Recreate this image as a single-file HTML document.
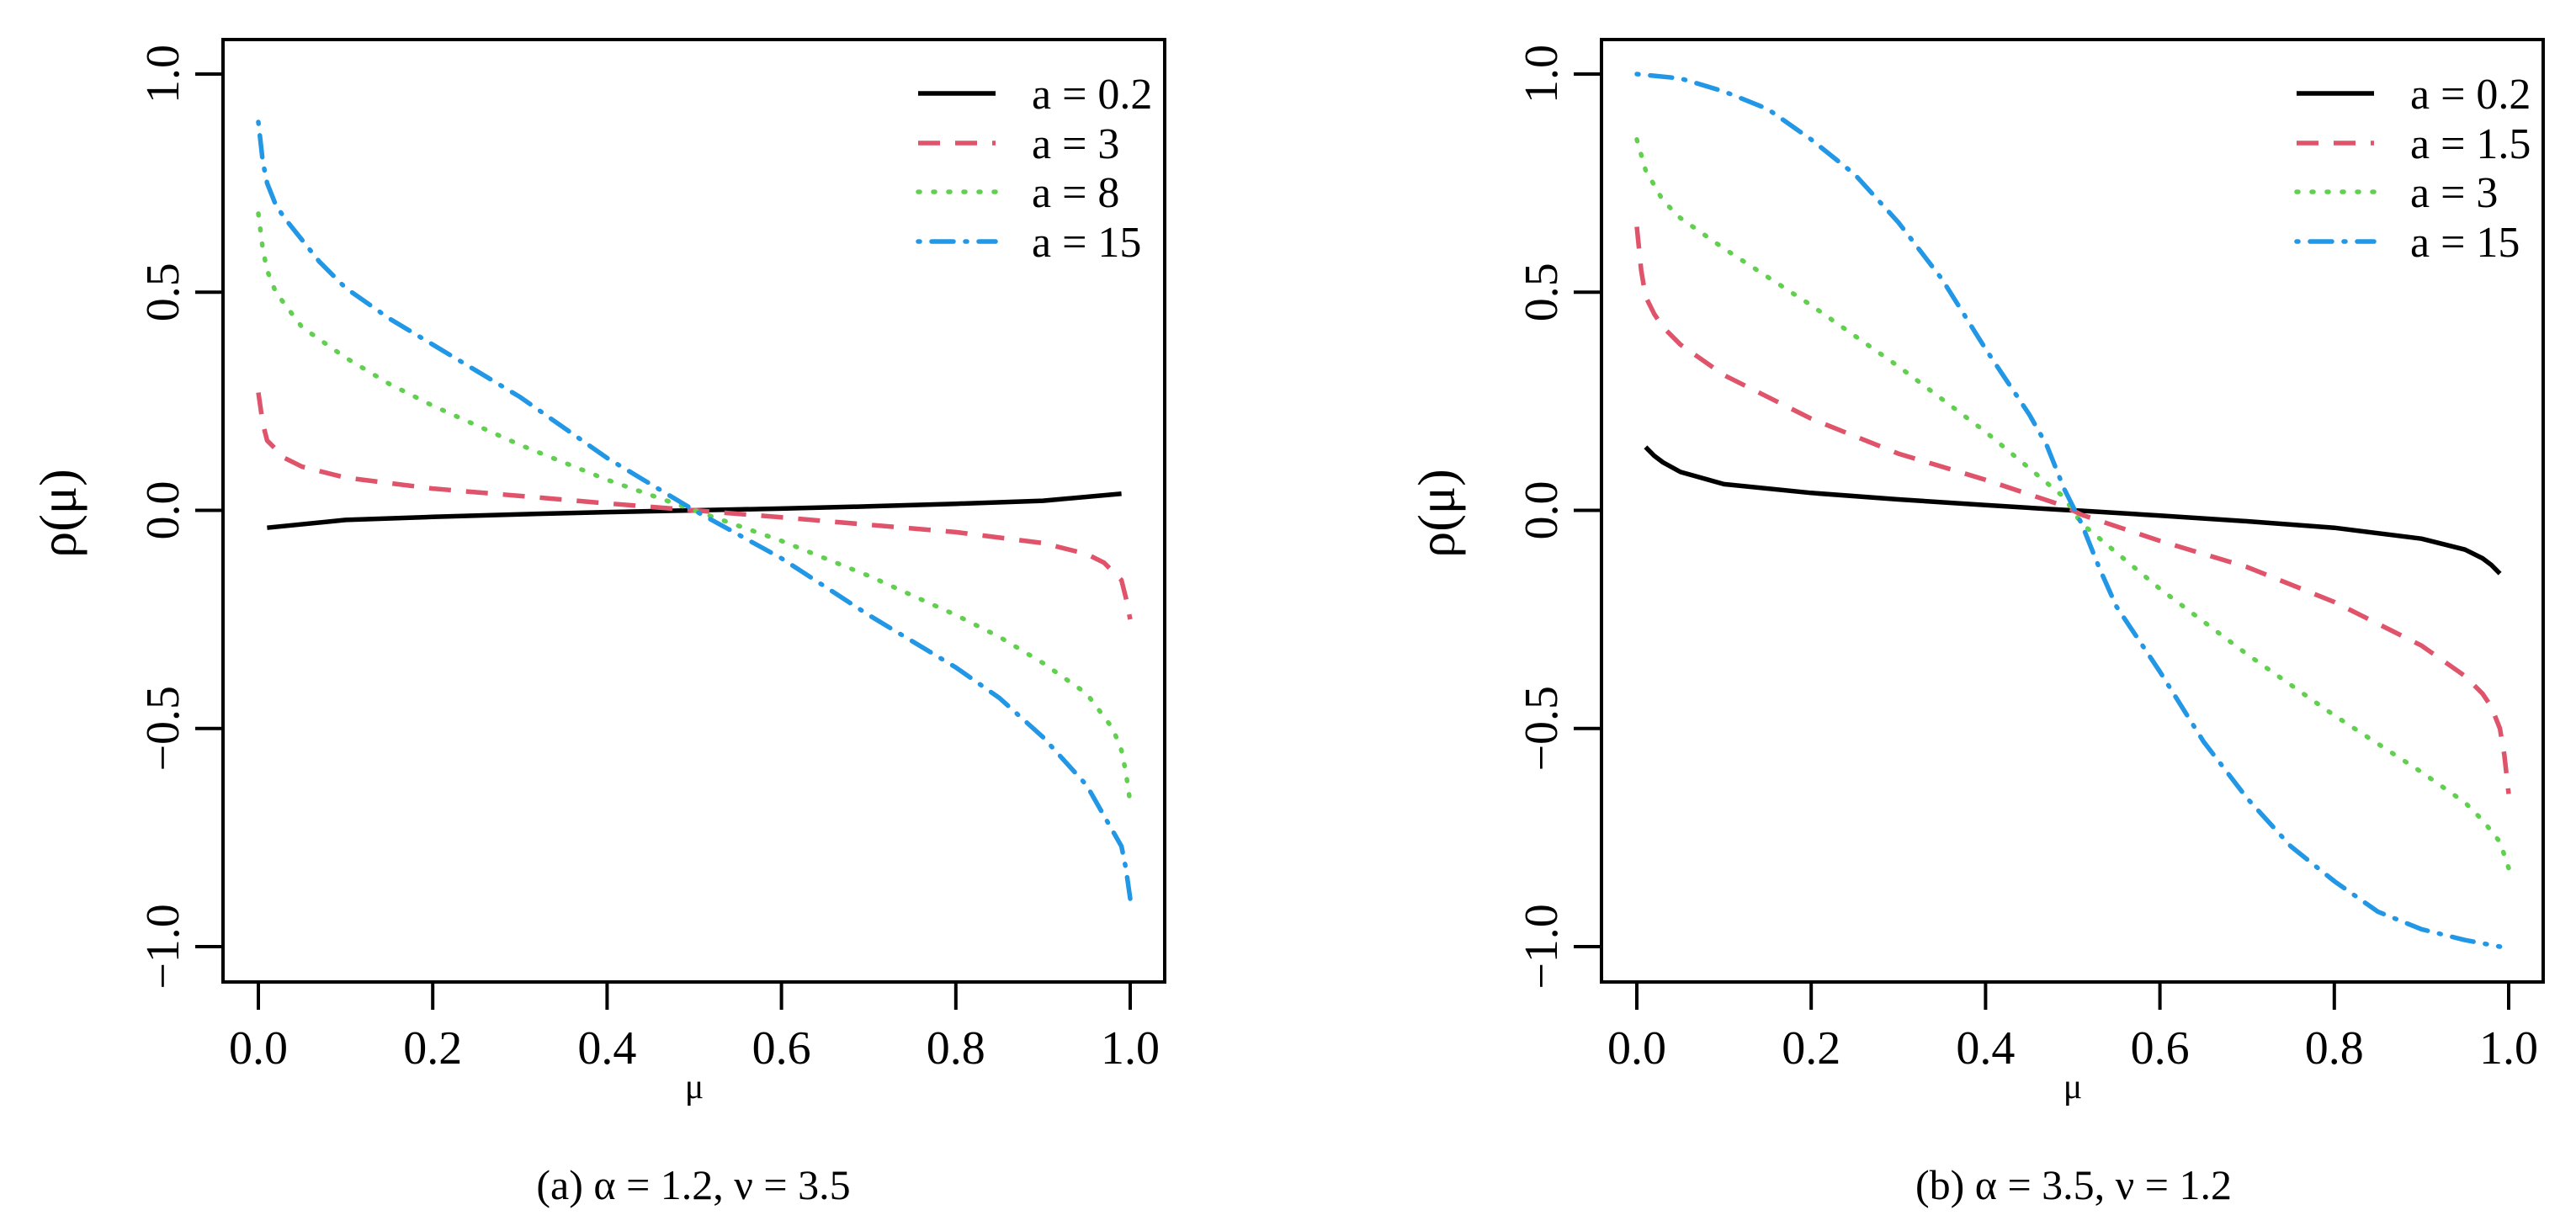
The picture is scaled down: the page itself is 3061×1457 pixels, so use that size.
<!DOCTYPE html>
<html><head><meta charset="utf-8">
<style>
html,body{margin:0;padding:0;background:#fff;}
svg{display:block;font-family:"Liberation Serif",serif;}
</style></head>
<body>
<svg id="fig" width="3061" height="1457" viewBox="0 0 3061 1457" xmlns="http://www.w3.org/2000/svg"></svg>
<script>
// ---- Panel (a) data ----
const xA_black = [0.01,0.1,0.2,0.3,0.4,0.5,0.6,0.7,0.8,0.9,0.99];
const yA_black = [-0.04,-0.022,-0.015,-0.009,-0.004,0,0.004,0.009,0.015,0.022,0.038];
const xA_red = [0,0.005,0.01,0.03,0.05,0.1,0.2,0.3,0.4,0.5,0.6,0.7,0.8,0.9,0.95,0.97,0.99,0.995,1.0];
const yA_red = [0.27,0.2,0.16,0.12,0.1,0.075,0.05,0.033,0.016,0,-0.016,-0.033,-0.05,-0.075,-0.1,-0.12,-0.16,-0.2,-0.25];
const xA_green = [0,0.005,0.01,0.02,0.05,0.1,0.15,0.2,0.3,0.4,0.5,0.6,0.7,0.8,0.85,0.9,0.95,0.98,0.99,0.995,1.0];
const yA_green = [0.68,0.6,0.55,0.5,0.42,0.35,0.29,0.24,0.15,0.07,0,-0.07,-0.15,-0.24,-0.29,-0.35,-0.42,-0.5,-0.55,-0.6,-0.67];
const xA_blue = [0,0.005,0.01,0.02,0.03,0.05,0.07,0.1,0.15,0.2,0.3,0.4,0.5,0.6,0.7,0.8,0.85,0.9,0.95,0.97,0.99,0.995,1.0];
const yA_blue = [0.89,0.8,0.75,0.7,0.67,0.62,0.57,0.51,0.44,0.38,0.26,0.12,0,-0.11,-0.24,-0.36,-0.43,-0.52,-0.63,-0.7,-0.77,-0.82,-0.89];
// ---- Panel (b) data ----
const xB_black = [0.01,0.02,0.03,0.05,0.1,0.2,0.3,0.4,0.49,0.51,0.6,0.7,0.8,0.9,0.95,0.97,0.98,0.99];
const yB_black = [0.145,0.125,0.11,0.088,0.06,0.04,0.025,0.012,0.001,-0.001,-0.012,-0.025,-0.04,-0.065,-0.09,-0.11,-0.125,-0.145];
const xB_red = [0,0.005,0.01,0.02,0.03,0.05,0.1,0.2,0.3,0.4,0.49,0.51,0.6,0.7,0.8,0.9,0.95,0.97,0.98,0.99,0.995,1.0];
const yB_red = [0.65,0.55,0.49,0.45,0.42,0.38,0.31,0.21,0.13,0.07,0.01,-0.01,-0.07,-0.13,-0.21,-0.31,-0.38,-0.42,-0.45,-0.5,-0.56,-0.65];
const xB_green = [0,0.01,0.03,0.05,0.1,0.2,0.3,0.4,0.49,0.51,0.6,0.7,0.8,0.9,0.95,0.97,0.99,1.0];
const yB_green = [0.85,0.78,0.71,0.67,0.6,0.47,0.33,0.18,0.03,-0.03,-0.18,-0.33,-0.47,-0.6,-0.67,-0.71,-0.76,-0.82];
const xB_blue = [0,0.05,0.1,0.15,0.2,0.25,0.3,0.35,0.4,0.42,0.45,0.47,0.49,0.51,0.53,0.55,0.58,0.6,0.65,0.7,0.75,0.8,0.85,0.9,0.95,0.99];
const yB_blue = [1.0,0.99,0.96,0.92,0.85,0.77,0.66,0.53,0.37,0.31,0.22,0.15,0.05,-0.03,-0.13,-0.22,-0.31,-0.37,-0.53,-0.66,-0.77,-0.85,-0.92,-0.96,-0.985,-1.0];
const xTicks = [0,0.2,0.4,0.6,0.8,1.0];
const xTickLabels = ["0.0","0.2","0.4","0.6","0.8","1.0"];
const yTicks = [1,0.5,0,-0.5,-1];
const yTickLabels = ["1.0","0.5","0.0","\u22120.5","\u22121.0"];
const legendA = ["a = 0.2","a = 3","a = 8","a = 15"];
const legendB = ["a = 0.2","a = 1.5","a = 3","a = 15"];

const NS="http://www.w3.org/2000/svg";
const svg=document.getElementById('fig');
const COLORS=["#000000","#DF536B","#61D04F","#2297E6"];
const DASH=["none","26,18","2,16","2,14,26,14"];
const CAPS=["butt","butt","round","round"];

function mk(tag,attrs,parent){const e=document.createElementNS(NS,tag);for(const k in attrs)e.setAttribute(k,attrs[k]);(parent||svg).appendChild(e);return e;}

function panel(off,id,series,legend,caption,captionX){
  const g=mk('g',{});
  
  
  const x0=307+off, x1=1343+off;
  const sx=v=>x0+(x1-x0)*v;
  const sy=v=>606.5-518.5*v;
  const box=mk('rect',{x:265+off,y:47,width:1119,height:1120,fill:'none',stroke:'#000','stroke-width':4},g);
  
  
  xTicks.forEach((t,i)=>{
    const l=mk('line',{x1:sx(t),x2:sx(t),y1:1167,y2:1200,stroke:'#000','stroke-width':4},g);
    
    
    const tx=mk('text',{x:sx(t),y:1264,'font-size':56,'text-anchor':'middle'},g);
    tx.textContent=xTickLabels[i];
    
    
  });
  yTicks.forEach((t,i)=>{
    const l=mk('line',{x1:265+off,x2:232+off,y1:sy(t),y2:sy(t),stroke:'#000','stroke-width':4},g);
    
    
    const tx=mk('text',{x:0,y:0,'font-size':56,'text-anchor':'middle',transform:`translate(${212+off},${sy(t)}) rotate(-90)`},g);
    tx.textContent=yTickLabels[i];
    
    
  });
  const yl=mk('text',{x:0,y:0,'font-size':62,'text-anchor':'middle',transform:`translate(${90+off},610) rotate(-90)`},g);
  yl.textContent='\u03C1(\u03BC)';
  
  
  const xl=mk('text',{x:825+off,y:1305,'font-size':42,'text-anchor':'middle'},g);
  xl.textContent='\u03BC';
  
  
  const cap=mk('text',{x:captionX,y:1425,'font-size':50,'text-anchor':'middle','xml:space':'preserve'},g);
  cap.textContent=caption;
  
  
  series.forEach((s,k)=>{
    const d=s[0].map((x,i)=>(i?'L':'M')+sx(x).toFixed(1)+','+sy(s[1][i]).toFixed(1)).join(' ');
    const p=mk('path',{d:d,fill:'none',stroke:COLORS[k],'stroke-width':5.5,'stroke-dasharray':DASH[k],'stroke-linecap':CAPS[k],'stroke-linejoin':'round'},g);
    
    
  });
  const ly=[111,170,228,287];
  legend.forEach((lab,k)=>{
    const l=mk('line',{x1:1091+off,x2:1183+off,y1:ly[k],y2:ly[k],stroke:COLORS[k],'stroke-width':5.5,'stroke-dasharray':DASH[k],'stroke-linecap':CAPS[k]},g);
    
    
    const t=mk('text',{x:1226+off,y:ly[k]+18,'font-size':52},g);
    t.textContent=lab;
    
    
  });
}
panel(0,'a',[[xA_black,yA_black],[xA_red,yA_red],[xA_green,yA_green],[xA_blue,yA_blue]],legendA,'(a)  \u03B1 = 1.2,  \u03BD = 3.5',824);
panel(1638,'b',[[xB_black,yB_black],[xB_red,yB_red],[xB_green,yB_green],[xB_blue,yB_blue]],legendB,'(b)  \u03B1 = 3.5,  \u03BD = 1.2',2464);
</script>
</body></html>
